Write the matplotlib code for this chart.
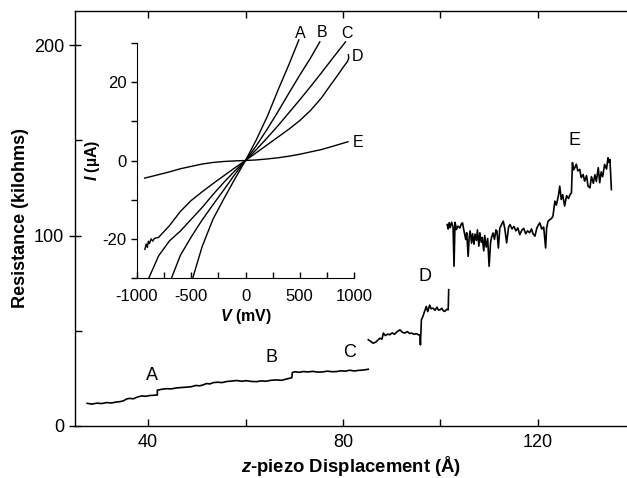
import numpy as np
import matplotlib
matplotlib.use("Agg")
import matplotlib.pyplot as plt
from matplotlib.ticker import MultipleLocator

plt.rcParams['font.family'] = ['Liberation Sans', 'DejaVu Sans']
plt.rcParams['axes.unicode_minus'] = False
plt.rcParams['mathtext.fontset'] = 'custom'
plt.rcParams['mathtext.it'] = 'Liberation Sans:italic:bold'
plt.rcParams['mathtext.rm'] = 'Liberation Sans:bold'
plt.rcParams['mathtext.bf'] = 'Liberation Sans:bold'

# main trace, plateaus A-C (resistance in kilohms vs z displacement in A)
abc_x = [27.5, 28.5, 29.5, 30.5, 31.5, 32.5, 33.5, 34.3, 35.0, 35.6, 36.2, 37.0, 37.8,
         38.7, 39.5, 40.3, 41.0, 41.9, 41.9, 42.3, 42.8, 43.8, 44.8, 45.8, 46.8, 47.9,
         48.8, 49.8, 50.6, 51.3, 52.0, 52.7, 53.4, 54.3, 55.2, 56.2, 57.2, 58.2, 59.2,
         60.2, 61.2, 62.3, 63.2, 64.2, 65.2, 66.4, 67.4, 68.3, 69.1, 69.5, 69.6, 70.2,
         71.0, 71.9, 72.8, 73.8, 74.8, 75.8, 76.8, 77.8, 78.7, 79.6, 80.5, 81.4, 82.3,
         83.2, 84.2, 85.2]
abc_y = [11.9, 11.5, 12.0, 11.8, 12.3, 12.1, 12.6, 12.8, 13.3, 14.2, 14.5, 14.3, 15.2,
         15.8, 15.6, 16.0, 16.1, 16.3, 18.8, 19.0, 19.3, 19.6, 19.5, 20.0, 20.2, 20.4,
         20.6, 21.3, 21.1, 21.6, 22.3, 22.1, 22.8, 23.0, 22.8, 23.4, 23.6, 23.9, 23.5,
         23.8, 23.4, 23.3, 23.7, 23.5, 24.0, 24.2, 24.0, 24.6, 25.1, 25.3, 28.1, 28.5,
         28.2, 28.6, 28.4, 28.7, 28.3, 28.4, 28.8, 28.5, 28.6, 29.0, 28.8, 29.3, 28.9,
         29.2, 29.4, 29.8]

# plateau D
d_x = [85.2, 85.6, 86.2, 86.7, 87.2, 87.6, 88.0, 88.3, 88.7, 89.2, 89.6, 90.1, 90.6,
       91.1, 91.7, 92.2, 92.7, 93.2, 93.7, 94.1, 94.6, 95.1, 95.5, 95.8, 95.9, 96.1,
       96.4, 96.7, 97.1, 97.4, 97.8, 98.1, 98.5, 98.9, 99.3, 99.6, 99.9, 100.3, 100.6,
       100.9, 101.3, 101.6, 101.7]
d_y = [45.3, 44.6, 43.5, 44.0, 45.2, 46.1, 45.6, 48.8, 47.5, 48.3, 47.9, 48.9, 48.2,
       49.5, 50.5, 49.2, 48.8, 49.6, 48.6, 48.8, 48.2, 48.5, 47.9, 47.9, 42.6, 55.8,
       57.5, 59.8, 62.8, 60.1, 63.5, 61.6, 61.9, 60.8, 62.4, 60.9, 61.0, 61.8, 60.5,
       60.2, 61.3, 61.0, 71.6]

# plateau E (noisy)
e_x = [101.4, 101.6, 101.8, 102.0, 102.3, 102.6, 102.8, 103.0, 103.3, 103.6, 104.0,
       104.3, 104.55, 104.8, 105.0, 105.2, 105.4, 105.7, 105.9, 106.1, 106.4, 106.6,
       106.9, 107.1, 107.4, 107.6, 107.9, 108.1, 108.4, 108.6, 108.9, 109.1, 109.4,
       109.7, 110.0, 110.3, 110.5, 110.8, 111.1, 111.4, 111.6, 111.9, 112.2, 112.55,
       112.9, 113.2, 113.6, 114.0, 114.3, 114.7, 115.1, 115.5, 115.9, 116.3, 116.7,
       117.1, 117.5, 117.9, 118.3, 118.7, 119.0, 119.4, 119.8, 120.1, 120.4, 120.8,
       121.2, 121.6, 121.8, 122.1, 122.5, 122.8, 123.1, 123.5, 123.8, 124.2, 124.5,
       124.8, 125.1, 125.5, 125.9, 126.3, 126.6, 126.9, 127.1, 127.3, 127.6, 127.9,
       128.2, 128.6, 128.9, 129.3, 129.6, 130.0, 130.3, 130.7, 131.0, 131.4, 131.7,
       132.0, 132.4, 132.7, 133.0, 133.3, 133.7, 134.1, 134.4, 134.6, 134.8, 135.1]
e_y = [105.8, 103.5, 106.8, 104.2, 107.0, 104.5, 83.9, 107.0, 103.2, 105.0, 104.0,
       106.2, 106.7, 103.0, 100.5, 98.0, 101.5, 89.1, 99.0, 102.5, 96.0, 101.0, 95.5,
       100.8, 97.5, 103.0, 94.5, 101.5, 96.5, 99.0, 92.0, 100.0, 94.0, 98.5, 83.9,
       96.5, 99.0, 101.4, 98.0, 103.0, 102.5, 93.5, 104.0, 105.8, 107.6, 104.0, 96.2,
       104.5, 105.8, 103.5, 104.8, 102.5, 104.0, 100.5, 102.8, 103.8, 101.0, 102.5,
       101.5, 103.5, 101.0, 99.7, 104.0, 105.5, 106.7, 103.5, 104.5, 93.5, 104.0,
       107.6, 108.5, 109.0, 110.2, 118.1, 116.0, 120.7, 126.0, 119.0, 121.5, 115.5,
       121.0, 119.5, 121.5, 122.5, 138.3, 134.5, 135.7, 137.5, 134.0, 134.8, 130.5,
       132.1, 128.6, 131.5, 126.0, 125.1, 131.0, 127.5, 132.0, 128.5, 135.7, 127.8,
       133.5, 131.0, 137.4, 135.0, 140.9, 138.5, 140.0, 124.2]

# inset I-V curves (V in mV, I in uA)
a_v = [-486, -400, -300, -200, -100, 0, 100, 200, 300, 400, 492]
a_i = [-30.0, -22.0, -15.0, -9.8, -4.8, 0.0, 5.3, 11.2, 18.0, 24.5, 30.8]

b_v = [-682, -600, -500, -400, -300, -200, -100, 0, 100, 200, 300, 400, 500, 600, 685]
b_i = [-30.0, -24.2, -19.5, -15.2, -11.3, -7.5, -3.6, 0.0, 3.8, 8.0, 12.5, 17.2,
       21.8, 26.2, 30.3]

c_v = [-891, -800, -700, -600, -500, -400, -300, -200, -100, 0, 100, 200, 300, 400,
       500, 600, 700, 800, 922]
c_i = [-30.0, -24.3, -20.5, -18.0, -15.0, -12.0, -8.7, -5.6, -2.7, 0.0, 2.8, 5.8,
       8.9, 12.2, 15.5, 18.9, 22.4, 26.0, 30.3]

d_v = [-928, -915, -905, -895, -885, -870, -855, -840, -800, -700, -600, -500, -400,
       -300, -200, -100, 0, 100, 200, 300, 400, 500, 600, 700, 782, 850, 900, 940, 952,
       948]
d_i = [-22.7, -21.3, -22.2, -20.6, -21.2, -20.0, -20.6, -19.9, -19.6, -16.6, -13.0,
       -10.2, -8.0, -5.9, -3.9, -1.9, 0.0, 2.0, 4.0, 6.0, 8.0, 10.2, 12.8, 16.0, 19.2,
       21.8, 23.8, 25.3, 26.2, 27.0]

e_v = [-930, -800, -700, -600, -500, -400, -300, -200, -100, 0, 100, 200, 300, 400,
       500, 600, 700, 800, 945]
e_i = [-4.5, -3.6, -2.9, -2.1, -1.5, -0.9, -0.5, -0.25, -0.1, 0.0, 0.15, 0.4, 0.7,
       1.1, 1.6, 2.2, 2.8, 3.6, 4.8]

main_labels = ['A', 'B', 'C', 'D', 'E']
main_label_x = [40.8, 65.4, 81.4, 96.8, 127.6]
main_label_y = [26.3, 35.8, 38.4, 78.4, 150.0]

iv_label_v = [507, 710, 940, 1032, 1041]
iv_label_i = [32.5, 32.7, 32.5, 26.5, 4.6]

fig = plt.figure(figsize=(6.27, 4.78), dpi=100)
ax = fig.add_axes([0.1196, 0.1088, 0.8804, 0.8682])

for xs, ys in [(abc_x, abc_y), (d_x, d_y), (e_x, e_y)]:
    ax.plot(xs, ys, color='black', lw=1.2)

for lab, lx, ly in zip(main_labels, main_label_x, main_label_y):
    ax.text(lx, ly, lab, fontsize=13, ha='center', va='center')

ax.set_xlim(25, 138.3)
ax.set_ylim(0, 218)
ax.spines['right'].set_visible(False)
for s in ['left', 'bottom', 'top']:
    ax.spines[s].set_linewidth(1.0)
ax.xaxis.set_major_locator(MultipleLocator(40))
ax.xaxis.set_minor_locator(MultipleLocator(20))
ax.yaxis.set_major_locator(MultipleLocator(100))
ax.yaxis.set_minor_locator(MultipleLocator(50))
ax.tick_params(axis='x', which='both', direction='in', top=True, length=5, width=1,
               labelsize=13, pad=6)
ax.tick_params(axis='y', which='major', direction='inout', length=9, width=1,
               labelsize=13)
ax.tick_params(axis='y', which='minor', direction='in', length=5, width=1)
ax.set_xlabel(r'$z$-piezo Displacement (Å)', fontsize=13.3, fontweight='bold',
              labelpad=2)
ax.set_ylabel('Resistance (kilohms)', fontsize=13, fontweight='bold', labelpad=3)

# inset
ins = fig.add_axes([0.2185, 0.4184, 0.3461, 0.4916])
for vs, cur in [(a_v, a_i), (b_v, b_i), (c_v, c_i), (d_v, d_i), (e_v, e_i)]:
    ins.plot(vs, cur, color='black', lw=1.0, clip_on=False)
for lab, lv, li in zip(main_labels, iv_label_v, iv_label_i):
    ins.text(lv, li, lab, fontsize=11.5, ha='center', va='center')

ins.set_xlim(-1000, 1000)
ins.set_ylim(-30, 30)
ins.patch.set_alpha(0)
ins.spines['right'].set_visible(False)
ins.spines['top'].set_visible(False)
ins.xaxis.set_major_locator(MultipleLocator(500))
ins.xaxis.set_minor_locator(MultipleLocator(250))
ins.yaxis.set_major_locator(MultipleLocator(20))
ins.yaxis.set_minor_locator(MultipleLocator(10))
ins.tick_params(axis='x', which='both', direction='in', length=4, width=1,
                labelsize=12, pad=8)
ins.tick_params(axis='y', which='both', direction='out', length=4, width=1,
                labelsize=12)
ins.set_xlabel(r'$V$ (mV)', fontsize=11.5, fontweight='bold', labelpad=2)
ins.set_ylabel(r'$I$ (µA)', fontsize=11.5, fontweight='bold', labelpad=0)

fig.savefig('out.png', dpi=100)
